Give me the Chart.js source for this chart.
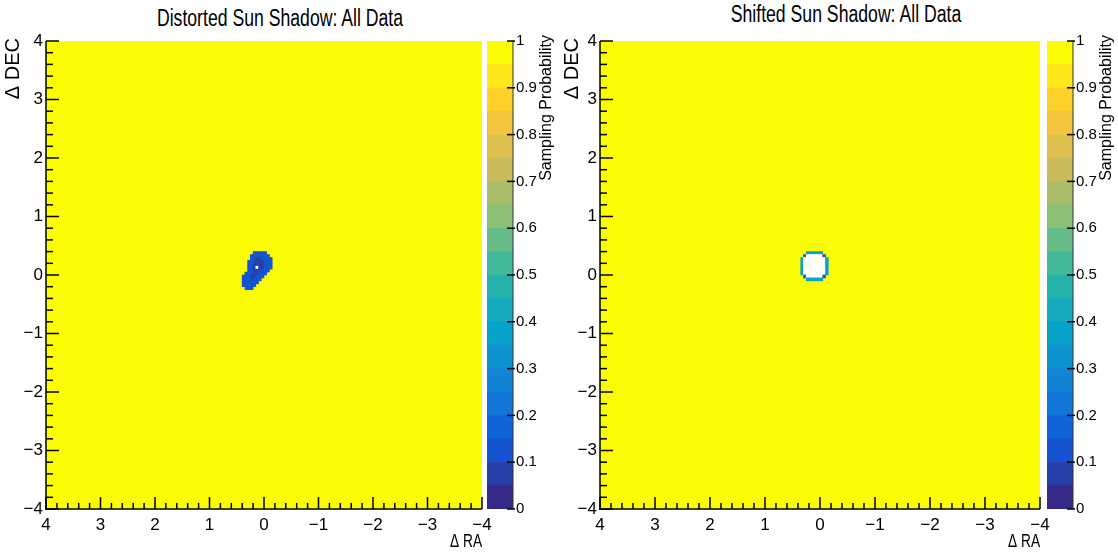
<!DOCTYPE html>
<html>
<head>
<meta charset="utf-8">
<script src="https://cdn.jsdelivr.net/npm/chart.js@4.4.1/dist/chart.umd.min.js"></script>
<style>
  html, body { margin: 0; padding: 0; background: #fff; overflow: hidden; }
  #page { position: relative; width: 1118px; height: 554px; }
  #page canvas { position: absolute; top: 0; }
  .title { position: absolute; width: 500px; text-align: center; font: 23px "Liberation Sans", Arial, sans-serif; line-height: 23px; color: #000; white-space: nowrap; transform: scaleX(0.767); transform-origin: 50% 50%; }
</style>
</head>
<body>
<div id="page">
  <div class="title" id="title1">Distorted Sun Shadow: All Data</div>
  <div class="title" id="title2">Shifted Sun Shadow: All Data</div>
  <canvas id="map1"></canvas>
  <canvas id="bar1"></canvas>
  <canvas id="map2"></canvas>
  <canvas id="bar2"></canvas>
</div>
<script>
// ---- data ----
const axisTicks = [-4, -3, -2, -1, 0, 1, 2, 3, 4];
const colorLevels = [0, 0.05, 0.1, 0.15, 0.2, 0.25, 0.3, 0.35, 0.4, 0.45, 0.5,
  0.55, 0.6, 0.65, 0.7, 0.75, 0.8, 0.85, 0.9, 0.95, 1];
const colorTicks = [0, 0.1, 0.2, 0.3, 0.4, 0.5, 0.6, 0.7, 0.8, 0.9, 1];
const binSize = 0.05;
const baseValue = 1; // every bin outside the patches below

// distorted shadow: rows from DEC 0.40 downwards, columns from RA 0.40 towards negative RA
const distortedStartRA = 0.40;
const distortedStartDEC = 0.40;
const distortedRows = [
  "....BBBBB..",
  "...BBBBBBB.",
  "...BBDDBBBB",
  "..BBDDDDBBB",
  "..BBDDDDBBB",
  "..BBDWDDBBB",
  "..BBDDDBBB.",
  ".BBBDDBBB..",
  "BBBDDBBB...",
  "BBBDBBB....",
  "BBBBBB.....",
  "BBBBB......",
  ".BBB.......",
];
const distortedKey = { B: 0.12, D: 0.07, W: 0 };

// shifted shadow: rows from DEC 0.40 downwards, columns from RA 0.35 towards negative RA
const shiftedStartRA = 0.35;
const shiftedStartDEC = 0.40;
const shiftedRows = [
  "..LLLLLL..",
  ".KWWWWWWK.",
  "LWWWWWWWWL",
  "LWWWWWWWWL",
  "LWWWWWWWWL",
  "LWWWWWWWWL",
  "LWWWWWWWWL",
  "LWWWWWWWWL",
  ".KWWWWWWK.",
  "..LLLLLL..",
];
const shiftedKey = { L: 0.36, K: 0.1, W: 0 };

// ---- palette (ROOT kBird, 20 contours) ----
const birdStops = [0, 0.125, 0.25, 0.375, 0.5, 0.625, 0.75, 0.875, 1];
const birdR = [0.2082, 0.0592, 0.0780, 0.0232, 0.1802, 0.5301, 0.8186, 0.9956, 0.99];
const birdG = [0.1664, 0.3599, 0.5041, 0.6419, 0.7178, 0.7492, 0.7328, 0.7862, 0.99];
const birdB = [0.5293, 0.8684, 0.8385, 0.7914, 0.6425, 0.4662, 0.3499, 0.1968, 0.02];

function bird(t) {
  let i = 0;
  while (i < birdStops.length - 2 && t > birdStops[i + 1]) i++;
  const f = (t - birdStops[i]) / (birdStops[i + 1] - birdStops[i]);
  const c = arr => Math.round(255 * (arr[i] + f * (arr[i + 1] - arr[i])));
  return `rgb(${c(birdR)},${c(birdG)},${c(birdB)})`;
}
const nBands = colorLevels.length - 1;
const bandColors = colorLevels.slice(0, -1).map((lo, i) => bird(i / (nBands - 1)));

function levelColor(v) {
  if (v <= 0) return '#ffffff';
  let i = 0;
  while (i < nBands - 1 && v >= colorLevels[i + 1]) i++;
  return bandColors[i];
}

function buildCells(rows, key, ra0, dec0) {
  const cells = [];
  rows.forEach((row, r) => {
    [...row].forEach((ch, c) => {
      if (!(ch in key)) return;
      const raHi = ra0 - c * binSize;
      const decHi = dec0 - r * binSize;
      cells.push({ x: raHi - binSize / 2, y: [decHi - binSize, decHi], v: key[ch] });
    });
  });
  return cells;
}

const H = 554;
const FONT = '"Liberation Sans", Arial, sans-serif';
Chart.defaults.font.family = FONT;
Chart.defaults.color = '#000';

const fmt = v => String(v).replace('-', '\u2212');

function verticalText(ctx, text, x, top, size) {
  ctx.save();
  ctx.fillStyle = '#000';
  ctx.font = size + 'px ' + FONT;
  ctx.translate(x, top);
  ctx.rotate(-Math.PI / 2);
  ctx.textAlign = 'right';
  ctx.textBaseline = 'middle';
  ctx.fillText(text, 0, 0);
  ctx.restore();
}

const mapPlugin = {
  id: 'mapFrame',
  beforeDatasetsDraw(chart) {
    const { ctx, chartArea: a } = chart;
    ctx.save();
    ctx.fillStyle = levelColor(baseValue);
    ctx.fillRect(a.left, a.top, a.right - a.left, a.bottom - a.top);
    ctx.restore();
  },
  afterDatasetsDraw(chart) {
    const { ctx, chartArea: a, scales: { x, y } } = chart;
    const line = (x1, y1, x2, y2) => { ctx.beginPath(); ctx.moveTo(x1, y1); ctx.lineTo(x2, y2); ctx.stroke(); };
    ctx.save();
    ctx.strokeStyle = '#000';
    ctx.lineWidth = 1.5;
    line(a.left, a.top, a.left, a.bottom + 1);
    line(a.left - 1, a.bottom, a.right, a.bottom);
    for (let k = 0; k <= 40; k++) {
      const v = -4 + k * 0.2;
      const major = k % 5 === 0;
      const px = x.getPixelForValue(v);
      line(px, a.bottom, px, a.bottom - (major ? 12 : 6));
      const py = y.getPixelForValue(v);
      line(a.left, py, a.left + (major ? 13 : 7), py);
    }
    // narrow "Δ RA" title at the right end of the x axis
    ctx.fillStyle = '#000';
    ctx.font = '19px ' + FONT;
    ctx.textAlign = 'right';
    ctx.textBaseline = 'alphabetic';
    ctx.translate(a.right, 547);
    ctx.scale(0.72, 1);
    ctx.fillText('\u0394 RA', 0, 0);
    ctx.restore();
    verticalText(ctx, '\u0394 DEC', 13, 38, 20);
  }
};

const barPlugin = {
  id: 'barFrame',
  afterDatasetsDraw(chart) {
    const { ctx, chartArea: a, scales: { y } } = chart;
    const line = (x1, y1, x2, y2) => { ctx.beginPath(); ctx.moveTo(x1, y1); ctx.lineTo(x2, y2); ctx.stroke(); };
    ctx.save();
    ctx.strokeStyle = '#333';
    ctx.lineWidth = 1;
    line(a.right, a.top, a.right, a.bottom);
    ctx.strokeStyle = '#000';
    ctx.lineWidth = 1.5;
    colorTicks.forEach(v => {
      const py = y.getPixelForValue(v);
      line(a.right - 6, py, a.right + 2, py);
    });
    ctx.restore();
    verticalText(ctx, 'Sampling Probability', a.right + 34, 35, 16);
  }
};

function place(id, left, width) {
  const c = document.getElementById(id);
  c.width = Math.round(width);
  c.height = H;
  c.style.left = left + 'px';
  c.style.width = Math.round(width) + 'px';
  c.style.height = H + 'px';
  return c;
}

function makeMap(id, cells, canvasLeft, plotLeft, plotRight) {
  const canvas = place(id, canvasLeft, plotRight + 12);
  const W = canvas.width;
  new Chart(canvas, {
    type: 'bar',
    data: {
      datasets: [{
        data: cells,
        backgroundColor: cells.map(c => levelColor(c.v)),
        borderWidth: 0,
        barPercentage: 1,
        categoryPercentage: 1,
      }]
    },
    options: {
      responsive: false,
      animation: false,
      devicePixelRatio: 1,
      layout: { padding: { left: 0, right: W - plotRight, top: 41, bottom: 0 } },
      plugins: { legend: { display: false }, tooltip: { enabled: false }, title: { display: false } },
      scales: {
        x: {
          type: 'linear', min: -4, max: 4, reverse: true, offset: false,
          grid: { display: false, drawTicks: false }, border: { display: false },
          afterBuildTicks: s => { s.ticks = axisTicks.map(v => ({ value: v })); },
          afterFit: s => { s.height = H - 509; },
          ticks: { padding: 6, font: { size: 17 }, maxRotation: 0, autoSkip: false, callback: fmt }
        },
        y: {
          type: 'linear', min: -4, max: 4,
          grid: { display: false, drawTicks: false }, border: { display: false },
          afterBuildTicks: s => { s.ticks = axisTicks.map(v => ({ value: v })); },
          afterFit: s => { s.width = plotLeft; },
          ticks: { padding: 3, font: { size: 17 }, autoSkip: false, callback: fmt }
        }
      }
    },
    plugins: [mapPlugin]
  });
}

function makeColorBar(id, canvasLeft, canvasWidth) {
  const canvas = place(id, canvasLeft, canvasWidth);
  const W = canvas.width;
  const datasets = bandColors.map((col, i) => ({
    data: [[colorLevels[i], colorLevels[i + 1]]],
    backgroundColor: col,
    borderWidth: 0,
    barPercentage: 1,
    categoryPercentage: 1,
    grouped: false,
  }));
  new Chart(canvas, {
    type: 'bar',
    data: { labels: [''], datasets },
    options: {
      responsive: false,
      animation: false,
      devicePixelRatio: 1,
      layout: { padding: { left: 3, right: 0, top: 41, bottom: H - 509 } },
      plugins: { legend: { display: false }, tooltip: { enabled: false } },
      scales: {
        x: { display: false },
        y: {
          position: 'right', min: 0, max: 1,
          grid: { display: false, drawTicks: false }, border: { display: false },
          afterBuildTicks: s => { s.ticks = colorTicks.map(v => ({ value: v })); },
          afterFit: s => { s.width = W - 29; },
          ticks: { padding: 3, font: { size: 15 }, autoSkip: false, callback: v => String(v) }
        }
      }
    },
    plugins: [barPlugin]
  });
}

const t1 = document.getElementById('title1');
t1.style.left = (280 - 250) + 'px';
t1.style.top = '7px';
const t2 = document.getElementById('title2');
t2.style.left = (846 - 250) + 'px';
t2.style.top = '3px';

makeMap('map1', buildCells(distortedRows, distortedKey, distortedStartRA, distortedStartDEC), 0, 46, 482);
makeColorBar('bar1', 484, 75);
makeMap('map2', buildCells(shiftedRows, shiftedKey, shiftedStartRA, shiftedStartDEC), 559, 41, 481);
makeColorBar('bar2', 1044, 74);
</script>
</body>
</html>
